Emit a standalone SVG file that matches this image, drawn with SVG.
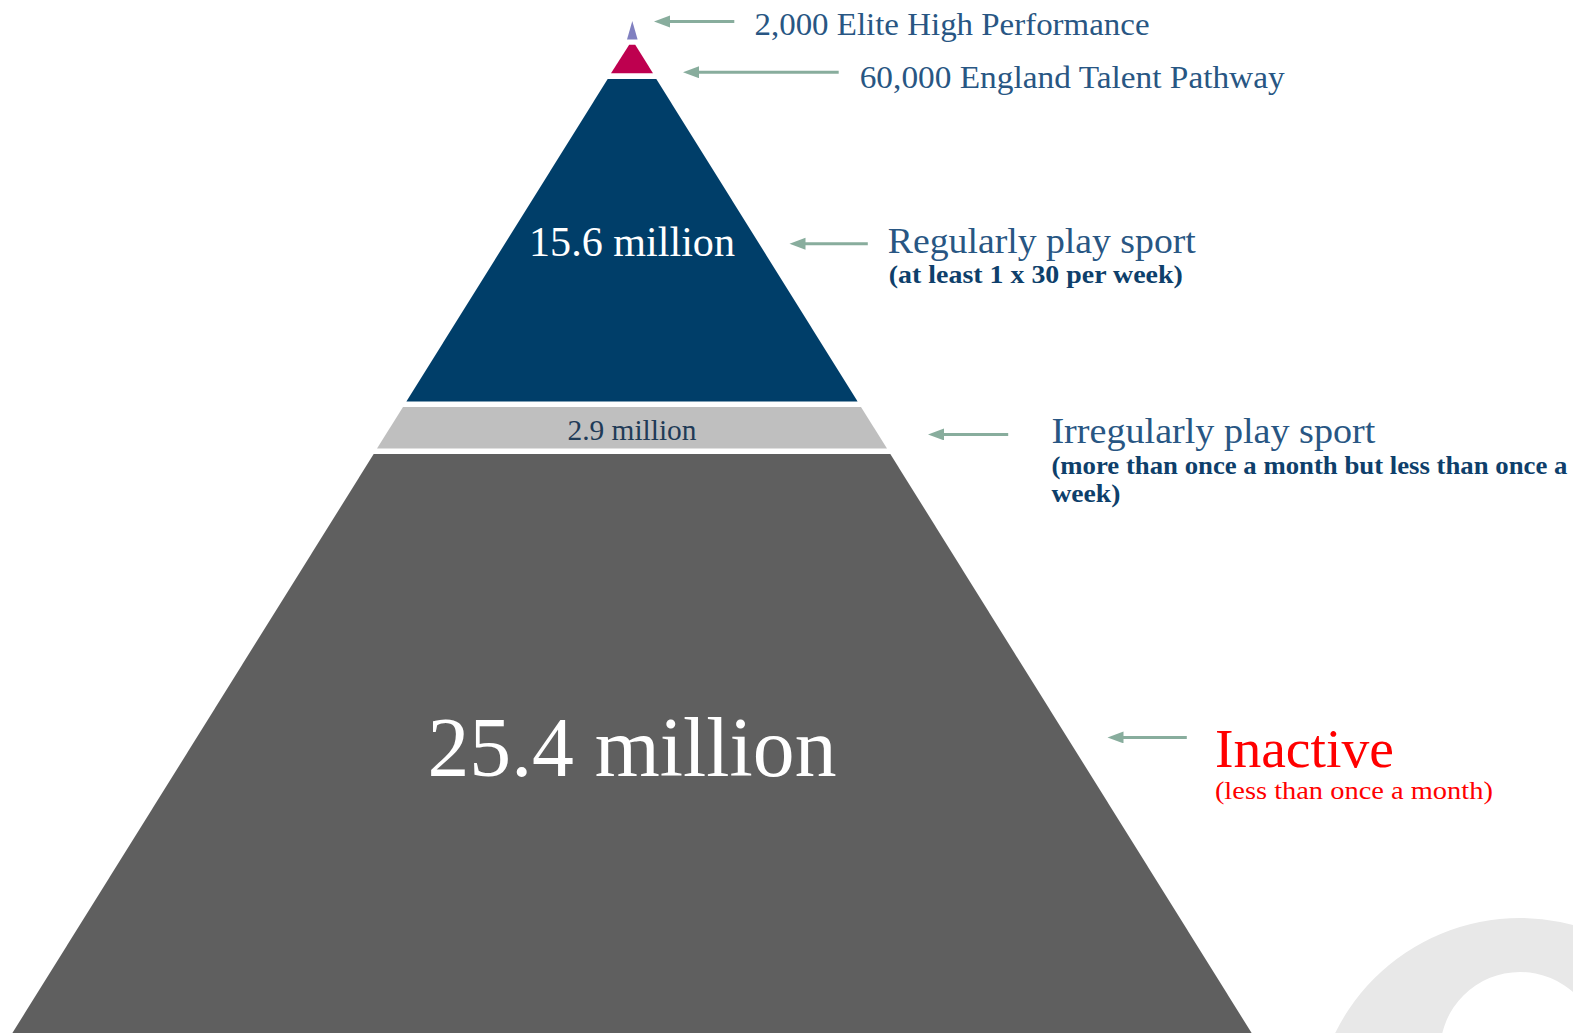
<svg xmlns="http://www.w3.org/2000/svg" width="1573" height="1033" viewBox="0 0 1573 1033">
  <style>
    .lbl { font-family: "Liberation Serif", "Times New Roman", serif; fill: #285683; }
    .sub { font-family: "Liberation Serif", "Times New Roman", serif; font-weight: bold; fill: #0E3F6B; }
    .warn { font-family: "Liberation Serif", "Times New Roman", serif; fill: #FF0000; }
    .val { font-family: "Liberation Serif", "Times New Roman", serif; text-anchor: middle; }
    .conn { stroke: #88AD9D; stroke-width: 3; fill: none; marker-end: url(#head); }
  </style>
  <defs>
    <marker id="head" markerUnits="userSpaceOnUse" markerWidth="18" markerHeight="14" refX="4" refY="6" orient="auto">
      <path d="M0,0 L16,6 L0,12 z" fill="#88AD9D"/>
    </marker>
  </defs>
  <rect width="1573" height="1033" fill="#FFFFFF"/>

  <!-- decorative ring, lower right corner -->
  <path d="M1314,1124 a206,206 0 1,0 412,0 a206,206 0 1,0 -412,0 z M1440,1052 a80,80 0 1,0 160,0 a80,80 0 1,0 -160,0 z" fill="#E8E8E8" fill-rule="evenodd"/>

  <!-- pyramid tiers -->
  <g id="tier-elite">
    <polygon points="632.3,21 627,39.5 637.6,39.5" fill="#8080C0"/>
  </g>
  <g id="tier-talent">
    <polygon points="629.2,44.7 635.2,44.7 653,73.3 611,73.3" fill="#BE004F"/>
  </g>
  <g id="tier-regular">
    <polygon points="607.7,79 656.3,79 857.6,401.5 406.4,401.5" fill="#003E69"/>
    <text class="val" x="632" y="256" font-size="42" fill="#FFFFFF" textLength="206" lengthAdjust="spacingAndGlyphs">15.6 million</text>
  </g>
  <g id="tier-irregular">
    <polygon points="403,407 861,407 887,448.5 377,448.5" fill="#BFBFBF"/>
    <text class="val" x="632" y="439.5" font-size="29" fill="#1F3B57" textLength="129" lengthAdjust="spacingAndGlyphs">2.9 million</text>
  </g>
  <g id="tier-inactive">
    <polygon points="373.7,454 890.3,454 1256,1040 8,1040" fill="#5F5F5F"/>
    <text class="val" x="632" y="775.5" font-size="84" fill="#FFFFFF" textLength="409" lengthAdjust="spacingAndGlyphs">25.4 million</text>
  </g>

  <!-- labels -->
  <g id="label-elite">
    <text class="lbl" x="754.5" y="34.5" font-size="32" textLength="395" lengthAdjust="spacingAndGlyphs">2,000 Elite High Performance</text>
  </g>
  <g id="label-talent">
    <text class="lbl" x="859.7" y="87.5" font-size="32" textLength="425" lengthAdjust="spacingAndGlyphs">60,000 England Talent Pathway</text>
  </g>
  <g id="label-regular">
    <text class="lbl" x="887.8" y="253" font-size="36" textLength="308" lengthAdjust="spacingAndGlyphs">Regularly play sport</text>
    <text class="sub" x="888.8" y="283" font-size="25" textLength="294" lengthAdjust="spacingAndGlyphs">(at least 1 x 30 per week)</text>
  </g>
  <g id="label-irregular">
    <text class="lbl" x="1051.4" y="442.5" font-size="36" textLength="324" lengthAdjust="spacingAndGlyphs">Irregularly play sport</text>
    <text class="sub" x="1051.4" y="473.5" font-size="25" textLength="516" lengthAdjust="spacingAndGlyphs">(more than once a month but less than once a</text>
    <text class="sub" x="1051.4" y="501.6" font-size="25" textLength="69" lengthAdjust="spacingAndGlyphs">week)</text>
  </g>
  <g id="label-inactive">
    <text class="warn" x="1214.9" y="767.4" font-size="54" textLength="179" lengthAdjust="spacingAndGlyphs">Inactive</text>
    <text class="warn" x="1214.9" y="798.5" font-size="25" textLength="278" lengthAdjust="spacingAndGlyphs">(less than once a month)</text>
  </g>

  <!-- connectors -->
  <g id="connectors">
    <line class="conn" x1="734.3" y1="21.5" x2="666" y2="21.5"/>
    <line class="conn" x1="838.7" y1="72.2" x2="695" y2="72.2"/>
    <line class="conn" x1="867.8" y1="243.8" x2="801.5" y2="243.8"/>
    <line class="conn" x1="1008.2" y1="434.4" x2="940" y2="434.4"/>
    <line class="conn" x1="1186.8" y1="737.4" x2="1119.5" y2="737.4"/>
  </g>
</svg>
